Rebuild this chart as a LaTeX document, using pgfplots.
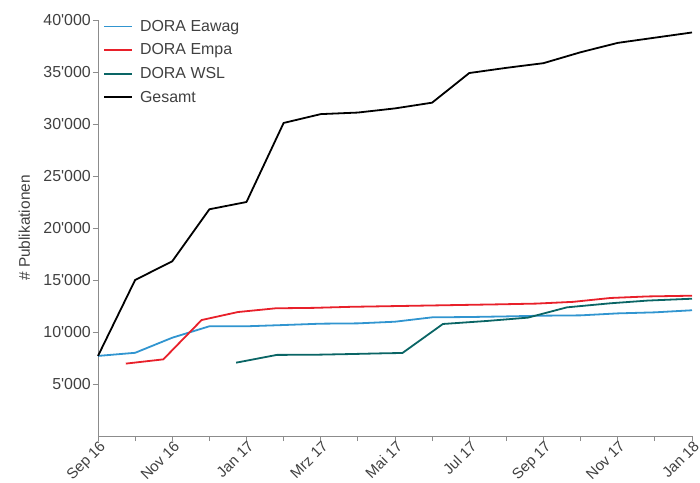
\documentclass[border=0pt]{standalone}
\usepackage{fontspec}
\setmainfont{Liberation Sans}
\usepackage{pgfplots}
\pgfplotsset{compat=1.18}
\definecolor{cEawag}{HTML}{3195D0}
\definecolor{cEmpa}{HTML}{E8202A}
\definecolor{cWsl}{HTML}{0A6565}
\definecolor{axisgray}{HTML}{8C8C8C}
\definecolor{txt}{HTML}{404040}
\newcommand{\q}{\textquotesingle}
\begin{document}
\begin{tikzpicture}
\useasboundingbox (-98bp,-47bp) rectangle (602bp,436bp);
\begin{axis}[
  at={(0,0)}, anchor=south west,
  scale only axis, width=594bp, height=416bp,
  xmin=0, xmax=16, ymin=0, ymax=40000,
  scaled y ticks=false,
  axis x line*=bottom, axis y line*=left,
  axis line style={axisgray, line width=0.8bp},
  every tick/.style={axisgray, line width=0.8bp},
  tick align=outside, major tick length=5bp,
  xtick={0,...,16},
  xticklabels={Sep 16,,Nov 16,,Jan 17,,Mrz 17,,Mai 17,,Jul 17,,Sep 17,,Nov 17,,Jan 18},
  xticklabel style={rotate=45, anchor=north east, inner sep=0.5bp, xshift=2bp, yshift=1bp, font=\fontsize{15}{17}\selectfont},
  ytick={5000,10000,...,40000},
  yticklabels={5\q000,10\q000,15\q000,20\q000,25\q000,30\q000,35\q000,40\q000},
  ticklabel style={font=\fontsize{16}{18}\selectfont, text=txt},
  yticklabel style={inner sep=2bp},
  ylabel={\# Publikationen},
  ylabel style={font=\fontsize{15.5}{18}\selectfont, text=txt, yshift=8bp},
  legend style={at={(0,1)}, anchor=north west, xshift=2bp, yshift=4bp, draw=none, fill=none,
    font=\fontsize{16}{18}\selectfont, text=txt, row sep=7bp},
  legend cell align=left,
  legend image code/.code={\draw[#1] (0bp,0bp) -- (28bp,0bp); \path (33bp,0bp);},
  legend image post style={line width=1.9bp},
  clip=false,
]
\addlegendimage{color=cEawag, line width=1.9bp}
\addlegendentry{DORA Eawag}
\addlegendimage{color=cEmpa, line width=1.9bp}
\addlegendentry{DORA Empa}
\addlegendimage{color=cWsl, line width=1.9bp}
\addlegendentry{DORA WSL}
\addlegendimage{color=black, line width=1.9bp}
\addlegendentry{Gesamt}
\addplot[forget plot, color=cEawag, line width=1.8bp, line join=round] coordinates {
(0,7700) (1,8000) (2,9450) (3,10550) (4,10550) (5,10670) (6,10800) (7,10830)
(8,10990) (9,11410) (10,11440) (11,11500) (12,11570) (13,11600) (14,11790) (15,11890) (16,12090)};
\addplot[forget plot, color=cEmpa, line width=1.8bp, line join=round] coordinates {
(0.75,6960) (1.76,7370) (2.79,11150) (3.77,11920) (4.79,12280) (5.8,12320) (6.8,12420)
(7.8,12480) (8.8,12540) (9.8,12600) (10.8,12660) (11.8,12730) (12.8,12900) (13.8,13270) (14.8,13420) (16,13490)};
\addplot[forget plot, color=cWsl, line width=1.8bp, line join=round] coordinates {
(3.72,7050) (4.82,7800) (5.8,7810) (6.8,7880) (7.8,7960) (8.2,7980) (9.29,10770)
(10.47,11060) (11.58,11380) (12.63,12370) (13.8,12760) (14.8,13020) (16,13200)};
\addplot[forget plot, color=black, line width=1.8bp, line join=round] coordinates {
(0,7700) (1,15000) (2,16800) (3,21800) (4,22500) (5,30100) (6,30950) (7,31100)
(8,31500) (9,32050) (10,34900) (11,35400) (12,35850) (13,36900) (14,37800) (15,38300) (16,38800)};
\end{axis}
\end{tikzpicture}
\end{document}
